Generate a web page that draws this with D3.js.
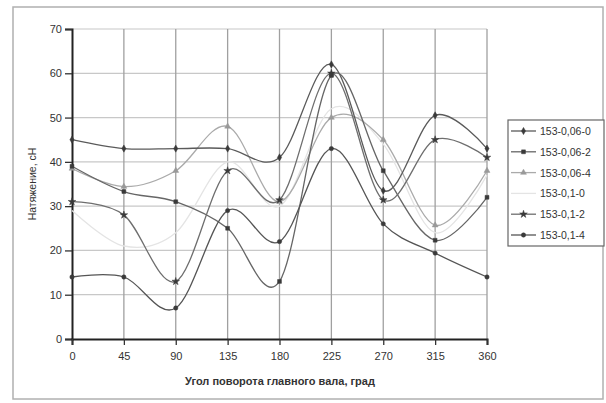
<!DOCTYPE html>
<html>
<head>
<meta charset="utf-8">
<script src="https://cdn.jsdelivr.net/npm/d3@7"></script>
<style>
  body { margin: 0; background: #fff; }
  #chart { width: 606px; height: 403px; }
  text { font-family: Arial, "Liberation Sans", sans-serif; fill: #333; }
</style>
</head>
<body>
<div id="chart"></div>
<script>
// Chart data
const angles = [0, 45, 90, 135, 180, 225, 270, 315, 360];
const xTicks = [0, 45, 90, 135, 180, 225, 270, 315, 360];
const yTicks = [0, 10, 20, 30, 40, 50, 60, 70];
const seriesNames = ["153-0,06-0", "153-0,06-2", "153-0,06-4", "153-0,1-0", "153-0,1-2", "153-0,1-4"];
const s06_0 = [45, 43, 43, 43, 41, 62, 33.5, 50.5, 43];
const s06_2 = [39, 33.3, 31, 25, 13, 59.5, 38, 22.3, 32];
const s06_4 = [38.5, 34.4, 38, 48, 31, 50, 45, 25.7, 38];
const s1_0 = [29, 21, 24, 40, 30, 52, 44, 24, 37];
const s1_2 = [31, 28, 13, 38, 31.4, 60, 31.4, 45, 41];
const s1_4 = [14, 14, 7, 29, 22, 43, 26, 19.4, 14];
const seriesValues = [s06_0, s06_2, s06_4, s1_0, s1_2, s1_4];

// Styles per series
const lineColors = ["#5a5a5a", "#666", "#aaa", "#e4e4e4", "#6e6e6e", "#555"];
const markerTypes = ["diamond", "square", "triangle", "none", "star", "circle"];

document.addEventListener('DOMContentLoaded', function() {
  const W = 606, H = 403;
  const svg = d3.select("#chart").append("svg")
    .attr("width", W)
    .attr("height", H);

  // Outer frame
  svg.append("rect")
    .attr("x", 13).attr("y", 7)
    .attr("width", 590).attr("height", 392)
    .attr("fill", "none")
    .attr("stroke", "#b0b0b0")
    .attr("stroke-width", 1.5);

  // Scales
  const x = d3.scaleLinear().domain([0, 360]).range([72, 487]);
  const y = d3.scaleLinear().domain([0, 70]).range([339, 29]);

  // Horizontal grid
  svg.append("g").selectAll("line")
    .data(yTicks.slice(1))
    .enter().append("line")
    .attr("x1", x(0)).attr("x2", x(360))
    .attr("y1", d => y(d)).attr("y2", d => y(d))
    .attr("stroke", "#c8c8c8")
    .attr("stroke-width", 1.2);

  // Vertical grid
  svg.append("g").selectAll("line")
    .data(xTicks.slice(1))
    .enter().append("line")
    .attr("x1", d => x(d)).attr("x2", d => x(d))
    .attr("y1", y(0)).attr("y2", y(70))
    .attr("stroke", "#a0a0a0")
    .attr("stroke-width", 1.3);

  // Axes
  const yAxis = svg.append("g")
    .attr("transform", `translate(${x(0)},0)`)
    .call(d3.axisLeft(y).tickValues(yTicks).tickSize(7).tickPadding(3));
  const xAxis = svg.append("g")
    .attr("transform", `translate(0,${y(0)})`)
    .call(d3.axisBottom(x).tickValues(xTicks).tickSize(6).tickPadding(7));

  [yAxis, xAxis].forEach(a => {
    a.select(".domain").attr("stroke", "#222").attr("stroke-width", 2);
    a.selectAll(".tick line").attr("stroke", "#333").attr("stroke-width", 1.3);
    a.selectAll(".tick text")
      .attr("font-size", "11px")
      .attr("fill", "#555")
      .style("font-family", "Arial, 'Liberation Sans', sans-serif");
  });

  // Axis titles
  svg.append("text")
    .attr("x", 280).attr("y", 385)
    .attr("text-anchor", "middle")
    .attr("font-size", "11px")
    .attr("font-weight", "bold")
    .attr("fill", "#555")
    .text("Угол поворота главного вала, град");

  svg.append("text")
    .attr("transform", "translate(36,184) rotate(-90)")
    .attr("text-anchor", "middle")
    .attr("font-size", "10.5px")
    .attr("fill", "#555")
    .text("Натяжение, сН");

  // Smoothed lines (Excel-like)
  const line = d3.line()
    .x((d, i) => x(angles[i]))
    .y(d => y(d))
    .curve(d3.curveCardinal.tension(0));

  // Draw light series first so dark ones sit on top
  const order = [3, 2, 0, 1, 4, 5];
  order.forEach(si => {
    svg.append("path")
      .datum(seriesValues[si])
      .attr("d", line)
      .attr("fill", "none")
      .attr("stroke", lineColors[si])
      .attr("stroke-width", 1.3);
  });

  // Marker drawing helper
  function drawMarker(g, type, cx, cy, color) {
    const sym = {
      diamond: d3.symbolDiamond,
      square: d3.symbolSquare,
      triangle: d3.symbolTriangle,
      star: d3.symbolStar,
      circle: d3.symbolCircle
    }[type];
    if (!sym) return;
    g.append("path")
      .attr("d", d3.symbol().type(sym).size(type === "star" ? 18 : 15)())
      .attr("transform", `translate(${cx},${cy})`)
      .attr("fill", color)
      .attr("stroke", color)
      .attr("stroke-width", 0.5);
  }

  const markerG = svg.append("g");
  order.forEach(si => {
    seriesValues[si].forEach((v, i) => {
      drawMarker(markerG, markerTypes[si], x(angles[i]), y(v), si === 2 ? "#999" : "#3a3a3a");
    });
  });

  // Legend
  const legend = svg.append("g");
  legend.append("rect")
    .attr("x", 508).attr("y", 120)
    .attr("width", 96).attr("height", 126)
    .attr("fill", "#fff")
    .attr("stroke", "#666")
    .attr("stroke-width", 1.2);

  seriesNames.forEach((name, i) => {
    const ly = 131 + i * 20.8;
    legend.append("line")
      .attr("x1", 511).attr("x2", 536)
      .attr("y1", ly).attr("y2", ly)
      .attr("stroke", lineColors[i])
      .attr("stroke-width", 1.3);
    drawMarker(legend, markerTypes[i], 523.5, ly, i === 2 ? "#999" : "#3a3a3a");
    legend.append("text")
      .attr("x", 540).attr("y", ly + 4)
      .attr("font-size", "10.5px")
      .attr("fill", "#555")
      .text(name);
  });
});
</script>
</body>
</html>
